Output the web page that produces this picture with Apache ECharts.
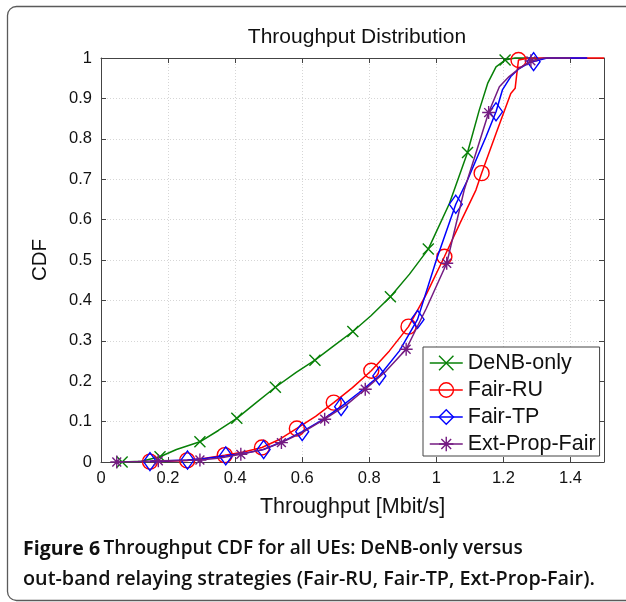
<!DOCTYPE html>
<html>
<head>
<meta charset="utf-8">
<title>Throughput Distribution</title>
<script src="https://cdn.jsdelivr.net/npm/echarts@6/dist/echarts.min.js"></script>
<style>
  html, body { margin: 0; padding: 0; background: #ffffff; }
  #chart { width: 626px; height: 602px; }
</style>
</head>
<body>
<div id="chart"></div>
<script>
// Throughput CDF curves (x in Mbit/s, y = cumulative fraction)
const denbX = [0.063, 0.12, 0.176, 0.225, 0.295, 0.35, 0.405, 0.46, 0.52, 0.582, 0.638, 0.695, 0.751, 0.805, 0.863, 0.92, 0.976, 1.039, 1.093, 1.128, 1.153, 1.178, 1.205, 1.235, 1.3];
const denbY = [0, 0.002, 0.013, 0.031, 0.050, 0.078, 0.108, 0.145, 0.185, 0.222, 0.252, 0.288, 0.323, 0.362, 0.409, 0.465, 0.527, 0.64, 0.766, 0.871, 0.937, 0.978, 0.995, 1, 1];
const denbMarks = [0, 2, 4, 6, 8, 10, 12, 14, 16, 18, 22];

const fairRuX = [0.146, 0.2, 0.257, 0.31, 0.369, 0.425, 0.48, 0.53, 0.584, 0.64, 0.694, 0.75, 0.806, 0.86, 0.917, 0.97, 1.024, 1.07, 1.118, 1.135, 1.178, 1.222, 1.235, 1.239, 1.245, 1.27, 1.3, 1.5];
const fairRuY = [0.001, 0.002, 0.004, 0.009, 0.017, 0.025, 0.036, 0.055, 0.083, 0.113, 0.147, 0.184, 0.226, 0.275, 0.335, 0.415, 0.508, 0.59, 0.673, 0.715, 0.813, 0.912, 0.925, 0.954, 0.995, 0.999, 1, 1];
const fairRuMarks = [0, 2, 4, 6, 8, 10, 12, 14, 16, 19, 24];

const fairTpX = [0.146, 0.2, 0.258, 0.315, 0.372, 0.43, 0.485, 0.54, 0.6, 0.66, 0.716, 0.77, 0.83, 0.89, 0.944, 1.0, 1.058, 1.093, 1.148, 1.178, 1.197, 1.222, 1.247, 1.277, 1.29, 1.33, 1.45];
const fairTpY = [0.001, 0.003, 0.005, 0.009, 0.015, 0.022, 0.031, 0.05, 0.075, 0.104, 0.137, 0.172, 0.213, 0.275, 0.353, 0.5, 0.638, 0.698, 0.805, 0.867, 0.921, 0.954, 0.974, 0.988, 0.991, 1, 1];
const fairTpMarks = [0, 2, 4, 6, 8, 10, 12, 14, 16, 19, 24];

const extPfX = [0.047, 0.11, 0.171, 0.23, 0.295, 0.355, 0.417, 0.48, 0.538, 0.6, 0.667, 0.73, 0.788, 0.85, 0.91, 0.97, 1.031, 1.083, 1.12, 1.156, 1.188, 1.217, 1.247, 1.282, 1.32, 1.4];
const extPfY = [0, 0.001, 0.003, 0.004, 0.005, 0.01, 0.019, 0.03, 0.048, 0.073, 0.106, 0.14, 0.18, 0.225, 0.279, 0.38, 0.492, 0.673, 0.77, 0.865, 0.929, 0.954, 0.974, 0.993, 1, 1];
const extPfMarks = [0, 2, 4, 6, 8, 10, 12, 14, 16, 19, 23];

const seriesNames = ['DeNB-only', 'Fair-RU', 'Fair-TP', 'Ext-Prop-Fair'];

// Axis ranges: [min, max, interval]
const xRange = [0, 1.5, 0.2];
const yRange = [0, 1, 0.1];

const FONT = '"Liberation Sans", Arial, sans-serif';
const CAPTION_FONT = '"Open Sans", "Noto Sans", sans-serif';
const AXIS_COLOR = '#444';

const chart = echarts.init(document.getElementById('chart'), null, { renderer: 'canvas' });

const zip = (xs, ys) => xs.map((x, i) => [x, ys[i]]);

const markerDefs = [
  { symbol: 'path://M0,0L10,10M10,0L0,10', size: 11, color: '#078007' },
  { symbol: 'circle', size: 15, color: '#ff0000' },
  { symbol: 'diamond', size: [13, 18], color: '#0000ff' },
  { symbol: 'path://M5,0L5,10M0,5L10,5M1.6,1.6L8.4,8.4M8.4,1.6L1.6,8.4', size: 13, color: '#741b82' }
];

const curves = [
  { x: denbX, y: denbY, marks: denbMarks },
  { x: fairRuX, y: fairRuY, marks: fairRuMarks },
  { x: fairTpX, y: fairTpY, marks: fairTpMarks },
  { x: extPfX, y: extPfY, marks: extPfMarks }
];

const series = curves.map((c, k) => {
  const m = markerDefs[k];
  const zero = Array.isArray(m.size) ? [0, 0] : 0;
  return {
    name: seriesNames[k],
    type: 'line',
    data: zip(c.x, c.y),
    symbol: m.symbol,
    symbolSize: (v, p) => (c.marks.indexOf(p.dataIndex) >= 0 ? m.size : zero),
    showSymbol: true,
    showAllSymbol: true,
    symbolKeepAspect: true,
    lineStyle: { color: m.color, width: 1.5 },
    itemStyle: { color: 'rgba(0,0,0,0)', borderColor: m.color, borderWidth: 1.4 },
    emphasis: { disabled: true },
    clip: false,
    z: 3 + k
  };
});

const baseAxis = {
  type: 'value',
  axisLine: { show: true, onZero: false, lineStyle: { color: AXIS_COLOR, width: 1 } },
  axisTick: { show: true, inside: true, length: 5, lineStyle: { color: AXIS_COLOR } },
  splitLine: { show: false },
  axisLabel: { show: false }
};

const option = {
  animation: false,
  backgroundColor: '#ffffff',
  title: {
    text: 'Throughput Distribution',
    left: 352, top: 22, textAlign: 'center',
    textStyle: { fontFamily: FONT, fontSize: 21, fontWeight: 'normal', color: '#111' }
  },
  grid: { left: 101, top: 58, right: 22, bottom: 140, containLabel: false },
  legend: {
    orient: 'vertical',
    left: 423, top: 347,
    padding: [5, 4, 1, 6],
    itemWidth: 33, itemHeight: 18, itemGap: 5,
    backgroundColor: '#ffffff',
    borderColor: AXIS_COLOR, borderWidth: 1, borderRadius: 0,
    textStyle: { fontFamily: FONT, fontSize: 21.5, color: '#111' },
    data: seriesNames.map((n, k) => ({
      name: n,
      itemStyle: { color: 'rgba(0,0,0,0)', borderColor: markerDefs[k].color, borderWidth: 1.4 },
      lineStyle: { color: markerDefs[k].color, width: 1.5 }
    })),
    selectedMode: false
  },
  xAxis: [
    Object.assign({}, baseAxis, {
      position: 'bottom',
      min: xRange[0], max: xRange[1], interval: xRange[2],
      name: 'Throughput [Mbit/s]',
      nameLocation: 'middle', nameGap: 34,
      nameTextStyle: { fontFamily: FONT, fontSize: 21.5, color: '#111' },
      splitLine: { show: true, lineStyle: { color: '#d6d6d6', type: [1, 2], width: 1 } },
      axisLabel: { show: true, showMaxLabel: false, margin: 8, fontFamily: FONT, fontSize: 16.5, color: '#111' }
    }),
    Object.assign({}, baseAxis, {
      position: 'top',
      min: xRange[0], max: xRange[1], interval: xRange[2]
    })
  ],
  yAxis: [
    Object.assign({}, baseAxis, {
      position: 'left',
      min: yRange[0], max: yRange[1], interval: yRange[2],
      name: 'CDF',
      nameLocation: 'middle', nameGap: 50,
      nameTextStyle: { fontFamily: FONT, fontSize: 20.5, color: '#111' },
      splitLine: { show: true, lineStyle: { color: '#d6d6d6', type: [1, 2], width: 1 } },
      axisLabel: { show: true, margin: 9, fontFamily: FONT, fontSize: 16.5, color: '#111' }
    }),
    Object.assign({}, baseAxis, {
      position: 'right',
      min: yRange[0], max: yRange[1], interval: yRange[2]
    })
  ],
  series: series,
  graphic: [
    {
      type: 'rect',
      shape: { x: 7.5, y: 6.5, width: 640, height: 594, r: 9 },
      style: { fill: 'none', stroke: '#5a5a5a', lineWidth: 1.3 },
      silent: true, z: 0
    },
    {
      type: 'text',
      left: 23, top: 539,
      style: {
        text: '{b|Figure 6} {n|Throughput CDF for all UEs: DeNB-only versus}\n{m|out-band relaying strategies (Fair-RU, Fair-TP, Ext-Prop-Fair).}',
        rich: {
          b: { fontFamily: CAPTION_FONT, fontSize: 19.5, fontWeight: 'bold', fill: '#111', lineHeight: 30 },
          n: { fontFamily: CAPTION_FONT, fontSize: 19, fontWeight: 600, fill: '#111', lineHeight: 30 },
          m: { fontFamily: CAPTION_FONT, fontSize: 19.8, fontWeight: 600, fill: '#111', lineHeight: 30 }
        }
      },
      silent: true
    }
  ]
};

chart.setOption(option);
</script>
</body>
</html>
